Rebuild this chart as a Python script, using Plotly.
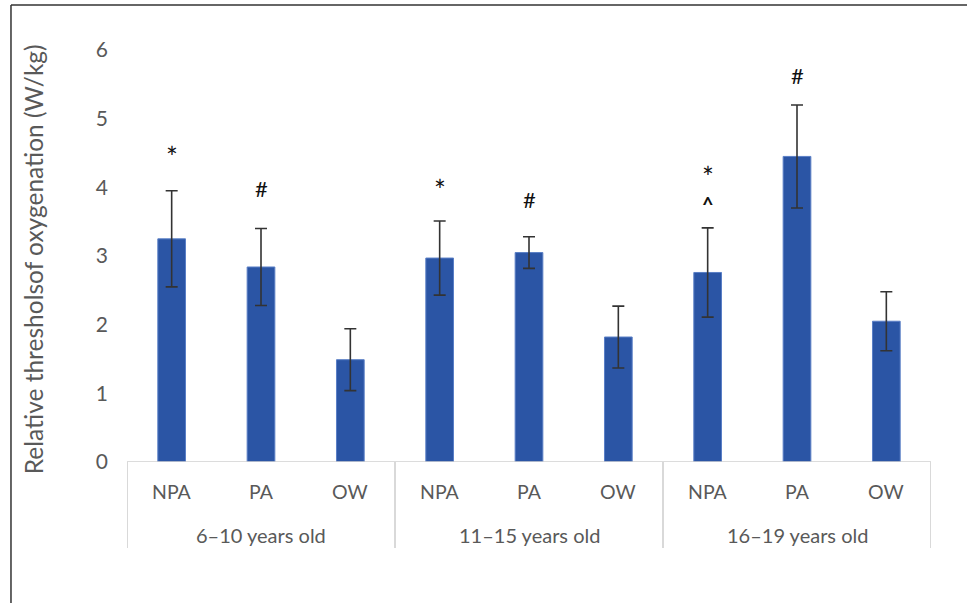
import plotly.graph_objects as go

# Group / condition layout
groups = ["6–10 years old", "11–15 years old", "16–19 years old"]
conditions = ["NPA", "PA", "OW"]

# Mean relative threshold of oxygenation (W/kg) and SD, in group order
means = [3.25, 2.84, 1.49, 2.97, 3.05, 1.82, 2.76, 4.45, 2.05]
sds = [0.70, 0.56, 0.45, 0.54, 0.23, 0.45, 0.65, 0.75, 0.43]

# Significance markers: (bar index, symbol, y value)
markers = [
    (0, "*", 4.44),
    (1, "#", 3.98),
    (3, "*", 3.96),
    (4, "#", 3.83),
    (6, "*", 4.15),
    (6, "^", 3.76),
    (7, "#", 5.63),
]

yticks = [0, 1, 2, 3, 4, 5, 6]

FONT = "Lato, 'Open Sans', sans-serif"
GREY = "#595959"
AXIS_GREY = "#d0d0d0"

xpos = list(range(len(means)))

fig = go.Figure()
fig.add_trace(go.Bar(
    x=xpos,
    y=means,
    width=0.31,
    marker=dict(color="#2b55a5", line=dict(color="#5a7fc6", width=1)),
    error_y=dict(type="data", array=sds, visible=True, color="#333333",
                 thickness=1.6, width=6),
    showlegend=False,
    hoverinfo="skip",
))

annotations = []
# Significance symbols
sym_size = {"*": 28, "#": 22, "^": 20}
for idx, sym, yv in markers:
    text = "<b>^</b>" if sym == "^" else sym
    annotations.append(dict(
        x=idx, y=yv, xref="x", yref="y", text=text, showarrow=False,
        xanchor="center", yanchor="middle",
        font=dict(family=FONT, size=sym_size[sym], color="#111111"),
    ))

# Condition labels below each bar
for i in xpos:
    annotations.append(dict(
        x=i, y=-0.071, xref="x", yref="paper", text=conditions[i % 3],
        showarrow=False, xanchor="center", yanchor="middle",
        font=dict(family=FONT, size=19.5, color=GREY),
    ))

# Age-group labels
for g, name in enumerate(groups):
    annotations.append(dict(
        x=g * 3 + 1, y=-0.178, xref="x", yref="paper", text=name,
        showarrow=False, xanchor="center", yanchor="middle",
        font=dict(family=FONT, size=20, color=GREY),
    ))

# Y-axis title
annotations.append(dict(
    x=-0.117, y=0.492, xref="paper", yref="paper",
    text="Relative thresholsof oxygenation (W/kg)", textangle=-90,
    showarrow=False, xanchor="center", yanchor="middle",
    font=dict(family=FONT, size=24.5, color=GREY),
))

shapes = []
# Baseline of the category axis
shapes.append(dict(type="line", xref="x", yref="y", x0=-0.5, x1=8.5,
                   y0=0, y1=0, line=dict(color=AXIS_GREY, width=1.6)))
# Group separators
for xb in [-0.5, 2.5, 5.5, 8.5]:
    shapes.append(dict(type="line", xref="x", yref="paper", x0=xb, x1=xb,
                       y0=0, y1=-0.209, line=dict(color=AXIS_GREY, width=1.6)))
# Outer frame (top and left edges)
shapes.append(dict(type="line", xref="paper", yref="paper",
                   x0=-0.1443, x1=1.05, y0=1.109, y1=1.109,
                   line=dict(color="#333333", width=1.5)))
shapes.append(dict(type="line", xref="paper", yref="paper",
                   x0=-0.1443, x1=-0.1443, y0=1.109, y1=-0.35,
                   line=dict(color="#333333", width=1.5)))

fig.update_layout(
    width=967, height=603,
    margin=dict(l=127, r=36, t=50, b=141),
    plot_bgcolor="white", paper_bgcolor="white",
    bargap=0.69,
    xaxis=dict(range=[-0.5, 8.5], showticklabels=False, showgrid=False,
               zeroline=False, showline=False, ticks=""),
    yaxis=dict(range=[0, 6], tickvals=yticks, showgrid=False, zeroline=False,
               showline=False, ticks="", ticklabelstandoff=18,
               tickfont=dict(family=FONT, size=21, color=GREY)),
    annotations=annotations,
    shapes=shapes,
)

fig.write_html("out.html")
